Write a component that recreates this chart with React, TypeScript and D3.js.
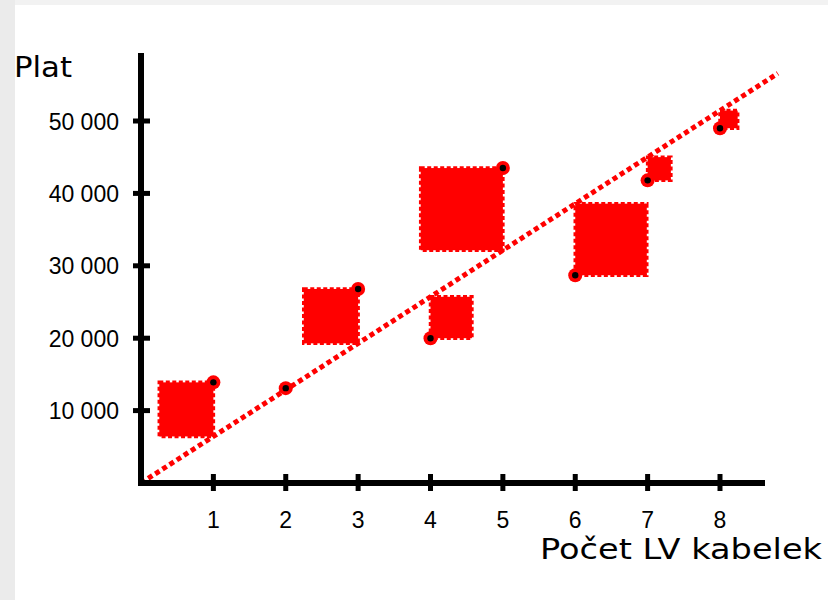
import React from "react";
import * as d3 from "d3";

const xValues = [1, 2, 3, 4, 5, 6, 7, 8];
const yValues = [13900, 13100, 26800, 20000, 43500, 28700, 41800, 49000];
const xTicks = [1, 2, 3, 4, 5, 6, 7, 8];
const yTicks = [10000, 20000, 30000, 40000, 50000];
const yTickLabels = ["10 000", "20 000", "30 000", "40 000", "50 000"];
const trendSlope = 6430;
const trendXEnd = 8.8;
const xAxisTitle = "Počet LV kabelek";
const yAxisTitle = "Plat";

const W = 828;
const H = 600;
const RED = "#ff0000";

export default function App() {
  const x = d3.scaleLinear().domain([0, 8]).range([141, 720]);
  const y = d3.scaleLinear().domain([0, 50000]).range([483, 121]);
  const line = d3
    .line<[number, number]>()
    .x((d) => x(d[0]))
    .y((d) => y(d[1]));
  const trend: [number, number][] = [
    [0, 0],
    [trendXEnd, trendSlope * trendXEnd],
  ];

  const squares = xValues.map((xv, i) => {
    const yv = yValues[i];
    const r = yv - trendSlope * xv;
    const px = x(xv);
    const py = y(yv);
    const side = Math.abs(y(0) - y(Math.abs(r)));
    if (r > 0) return { x0: px - side, y0: py, side };
    return { x0: px, y0: py - side, side };
  });

  const font = "'DejaVu Sans', sans-serif";
  const tickFont = "'Liberation Sans', Arial, sans-serif";

  return (
    <svg
      width={W}
      height={H}
      style={{ position: "fixed", left: 0, top: 0, display: "block" }}
    >
      <rect x={0} y={0} width={W} height={H} fill="#ffffff" />
      <rect x={0} y={0} width={W} height={5} fill="#f2f2f2" />
      <rect x={0} y={0} width={15} height={H} fill="#ebebeb" />

      {/* trend line */}
      <path
        d={line(trend) || ""}
        fill="none"
        stroke={RED}
        strokeWidth={5}
        strokeDasharray="5 3.5"
      />

      {/* residual squares */}
      {squares.map((s, i) =>
        s.side > 3 ? (
          <rect
            key={"sq" + i}
            x={s.x0}
            y={s.y0}
            width={s.side}
            height={s.side}
            fill={RED}
            stroke={RED}
            strokeWidth={3.5}
            strokeDasharray="4 2.5"
          />
        ) : null
      )}

      {/* axes */}
      <line x1={141} y1={53} x2={141} y2={483} stroke="#000" strokeWidth={6} />
      <line x1={138} y1={483} x2={765} y2={483} stroke="#000" strokeWidth={6} />
      {xTicks.map((t) => (
        <g key={"xt" + t}>
          <line x1={x(t)} x2={x(t)} y1={474} y2={491} stroke="#000" strokeWidth={5} />
          <text
            x={x(t)}
            y={528}
            textAnchor="middle"
            fontFamily={tickFont}
            fontSize={23}
            fill="#000"
          >
            {t}
          </text>
        </g>
      ))}
      {yTicks.map((t, i) => (
        <g key={"yt" + t}>
          <line x1={133} x2={150} y1={y(t)} y2={y(t)} stroke="#000" strokeWidth={5} />
          <text
            x={119}
            y={y(t) + 8.5}
            textAnchor="end"
            fontFamily={tickFont}
            fontSize={23}
            fill="#000"
          >
            {yTickLabels[i]}
          </text>
        </g>
      ))}

      {/* points */}
      {xValues.map((xv, i) => (
        <g key={"pt" + i}>
          <circle cx={x(xv)} cy={y(yValues[i])} r={7} fill={RED} />
          <circle cx={x(xv)} cy={y(yValues[i])} r={3.2} fill="#000" />
        </g>
      ))}

      {/* titles */}
      <text
        x={14}
        y={77}
        fontFamily={font}
        fontSize={29}
        fill="#000"
        textLength={58}
        lengthAdjust="spacingAndGlyphs"
      >
        {yAxisTitle}
      </text>
      <text
        x={540}
        y={559}
        fontFamily={font}
        fontSize={29}
        fill="#000"
        textLength={282}
        lengthAdjust="spacingAndGlyphs"
      >
        {xAxisTitle}
      </text>
    </svg>
  );
}
